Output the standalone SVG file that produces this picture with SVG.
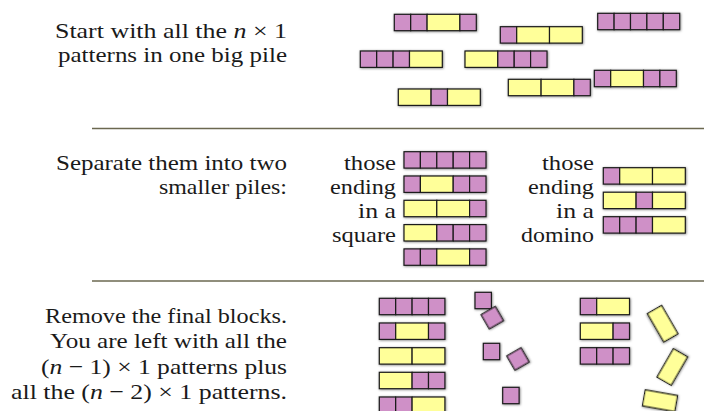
<svg xmlns="http://www.w3.org/2000/svg" width="704" height="411" viewBox="0 0 704 411">
<style>
  .i { font-style: italic; }
  .sq { fill: #cf90c7; stroke: #1a1a1a; stroke-width: 1.2; }
  .dm { fill: #ffff99; stroke: #1a1a1a; stroke-width: 1.2; }
  .pat { filter: url(#sh); }
  .rule { stroke: #6b6850; stroke-width: 1.4; }
</style>
<defs>
  <filter id="sh" x="-20%" y="-40%" width="140%" height="180%">
    <feDropShadow dx="0.6" dy="0.6" stdDeviation="0.8" flood-color="#000" flood-opacity="0.5"/>
  </filter>
  <rect id="S" class="sq" width="16.4" height="16.4"/>
  <rect id="D" class="dm" width="32.8" height="16.4"/>
</defs>

<g id="rules">
  <line class="rule" x1="92" y1="128.5" x2="704" y2="128.5"/>
  <line class="rule" x1="92" y1="281" x2="704" y2="281"/>
</g>

<g id="labels" font-family="'Liberation Serif', 'Times New Roman', serif" font-size="22" fill="#1a1a1a" text-anchor="end">
  <text x="287" y="37.5" textLength="232" lengthAdjust="spacingAndGlyphs">Start with all the <tspan class="i">n</tspan> × 1</text>
  <text x="287" y="61.5" textLength="229" lengthAdjust="spacingAndGlyphs">patterns in one big pile</text>
  <text x="287" y="169.5" textLength="231" lengthAdjust="spacingAndGlyphs">Separate them into two</text>
  <text x="287" y="193.8" textLength="128" lengthAdjust="spacingAndGlyphs">smaller piles:</text>
  <text x="287" y="323" textLength="242" lengthAdjust="spacingAndGlyphs">Remove the final blocks.</text>
  <text x="287" y="348" textLength="237" lengthAdjust="spacingAndGlyphs">You are left with all the</text>
  <text x="287" y="373.5" textLength="246" lengthAdjust="spacingAndGlyphs">(<tspan class="i">n</tspan> − 1) × 1 patterns plus</text>
  <text x="287" y="398.5" textLength="276" lengthAdjust="spacingAndGlyphs">all the (<tspan class="i">n</tspan> − 2) × 1 patterns.</text>

  <text x="396" y="169.5" textLength="52" lengthAdjust="spacingAndGlyphs">those</text>
  <text x="396" y="193.8" textLength="66" lengthAdjust="spacingAndGlyphs">ending</text>
  <text x="396" y="218" textLength="38" lengthAdjust="spacingAndGlyphs">in a</text>
  <text x="396" y="242.3" textLength="64" lengthAdjust="spacingAndGlyphs">square</text>

  <text x="594" y="169.5" textLength="52" lengthAdjust="spacingAndGlyphs">those</text>
  <text x="594" y="193.8" textLength="66" lengthAdjust="spacingAndGlyphs">ending</text>
  <text x="594" y="218" textLength="38" lengthAdjust="spacingAndGlyphs">in a</text>
  <text x="594" y="242.3" textLength="73" lengthAdjust="spacingAndGlyphs">domino</text>
</g>

<!-- Big pile -->
<g id="pile-1" class="pat" transform="translate(394.3,14.3)"><use href="#S" x="0"/><use href="#S" x="16.4"/><use href="#D" x="32.8"/><use href="#S" x="65.6"/></g>
<g id="pile-2" class="pat" transform="translate(500.3,26.7)"><use href="#S" x="0"/><use href="#D" x="16.4"/><use href="#D" x="49.2"/></g>
<g id="pile-3" class="pat" transform="translate(597.7,13.3)"><use href="#S" x="0"/><use href="#S" x="16.4"/><use href="#S" x="32.8"/><use href="#S" x="49.2"/><use href="#S" x="65.6"/></g>
<g id="pile-4" class="pat" transform="translate(360.3,51)"><use href="#S" x="0"/><use href="#S" x="16.4"/><use href="#S" x="32.8"/><use href="#D" x="49.2"/></g>
<g id="pile-5" class="pat" transform="translate(465,51)"><use href="#D" x="0"/><use href="#S" x="32.8"/><use href="#S" x="49.2"/><use href="#S" x="65.6"/></g>
<g id="pile-6" class="pat" transform="translate(594.3,70.3)"><use href="#S" x="0"/><use href="#D" x="16.4"/><use href="#S" x="49.2"/><use href="#S" x="65.6"/></g>
<g id="pile-7" class="pat" transform="translate(508.3,79.3)"><use href="#D" x="0"/><use href="#D" x="32.8"/><use href="#S" x="65.6"/></g>
<g id="pile-8" class="pat" transform="translate(398.3,89)"><use href="#D" x="0"/><use href="#S" x="32.8"/><use href="#D" x="49.2"/></g>

<!-- Ending in a square -->
<g id="sq-1" class="pat" transform="translate(404,151.7)"><use href="#S" x="0"/><use href="#S" x="16.4"/><use href="#S" x="32.8"/><use href="#S" x="49.2"/><use href="#S" x="65.6"/></g>
<g id="sq-2" class="pat" transform="translate(404,176)"><use href="#S" x="0"/><use href="#D" x="16.4"/><use href="#S" x="49.2"/><use href="#S" x="65.6"/></g>
<g id="sq-3" class="pat" transform="translate(404,200.3)"><use href="#D" x="0"/><use href="#D" x="32.8"/><use href="#S" x="65.6"/></g>
<g id="sq-4" class="pat" transform="translate(404,224.6)"><use href="#D" x="0"/><use href="#S" x="32.8"/><use href="#S" x="49.2"/><use href="#S" x="65.6"/></g>
<g id="sq-5" class="pat" transform="translate(404,248.9)"><use href="#S" x="0"/><use href="#S" x="16.4"/><use href="#D" x="32.8"/><use href="#S" x="65.6"/></g>

<!-- Ending in a domino -->
<g id="dm-1" class="pat" transform="translate(603.3,167.7)"><use href="#S" x="0"/><use href="#D" x="16.4"/><use href="#D" x="49.2"/></g>
<g id="dm-2" class="pat" transform="translate(603.3,192.2)"><use href="#D" x="0"/><use href="#S" x="32.8"/><use href="#D" x="49.2"/></g>
<g id="dm-3" class="pat" transform="translate(603.3,216.7)"><use href="#S" x="0"/><use href="#S" x="16.4"/><use href="#S" x="32.8"/><use href="#D" x="49.2"/></g>

<!-- (n-1) patterns -->
<g id="n1-1" class="pat" transform="translate(379.3,298.3)"><use href="#S" x="0"/><use href="#S" x="16.4"/><use href="#S" x="32.8"/><use href="#S" x="49.2"/></g>
<g id="n1-2" class="pat" transform="translate(379.3,323)"><use href="#S" x="0"/><use href="#D" x="16.4"/><use href="#S" x="49.2"/></g>
<g id="n1-3" class="pat" transform="translate(379.3,347.7)"><use href="#D" x="0"/><use href="#D" x="32.8"/></g>
<g id="n1-4" class="pat" transform="translate(379.3,372.3)"><use href="#D" x="0"/><use href="#S" x="32.8"/><use href="#S" x="49.2"/></g>
<g id="n1-5" class="pat" transform="translate(379.3,397)"><use href="#S" x="0"/><use href="#S" x="16.4"/><use href="#D" x="32.8"/></g>

<!-- removed squares -->
<g id="rm-sq-1" class="pat" transform="translate(475,292.3)"><use href="#S"/></g>
<g id="rm-sq-2" class="pat" transform="translate(492.3,317.7) rotate(-30)"><use href="#S" x="-8.2" y="-8.2"/></g>
<g id="rm-sq-3" class="pat" transform="translate(483.3,343.3)"><use href="#S"/></g>
<g id="rm-sq-4" class="pat" transform="translate(518,359) rotate(-30)"><use href="#S" x="-8.2" y="-8.2"/></g>
<g id="rm-sq-5" class="pat" transform="translate(502.7,387.3)"><use href="#S"/></g>

<!-- (n-2) patterns -->
<g id="n2-1" class="pat" transform="translate(580.3,298.3)"><use href="#S" x="0"/><use href="#D" x="16.4"/></g>
<g id="n2-2" class="pat" transform="translate(580.3,323)"><use href="#D" x="0"/><use href="#S" x="32.8"/></g>
<g id="n2-3" class="pat" transform="translate(580.3,347.7)"><use href="#S" x="0"/><use href="#S" x="16.4"/><use href="#S" x="32.8"/></g>

<!-- removed dominoes -->
<g id="rm-dm-1" class="pat" transform="translate(662.7,323.7) rotate(60)"><use href="#D" x="-16.4" y="-8.2"/></g>
<g id="rm-dm-2" class="pat" transform="translate(672.3,367) rotate(-60)"><use href="#D" x="-16.4" y="-8.2"/></g>
<g id="rm-dm-3" class="pat" transform="translate(660,400.7) rotate(10)"><use href="#D" x="-16.4" y="-8.2"/></g>
</svg>
